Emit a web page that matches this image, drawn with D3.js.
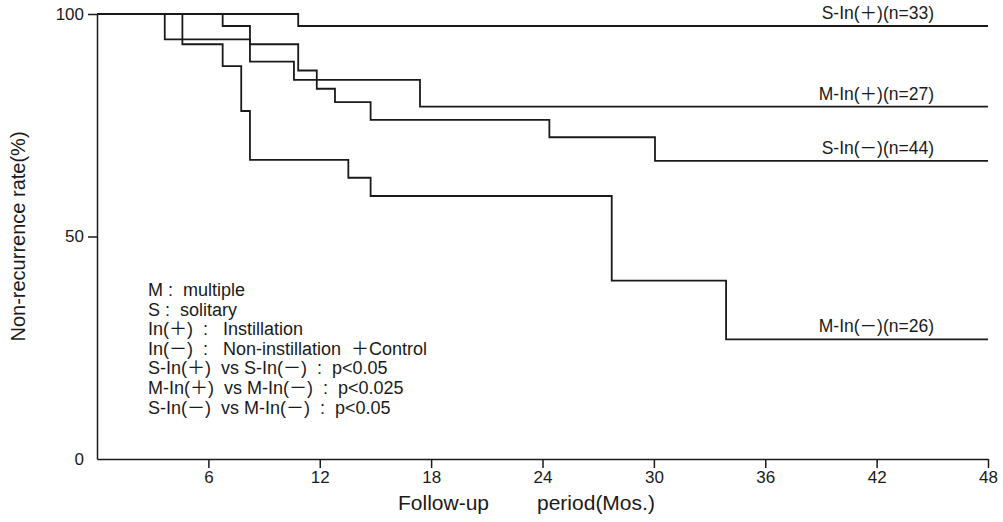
<!DOCTYPE html>
<html>
<head>
<meta charset="utf-8">
<script src="https://cdn.jsdelivr.net/npm/d3@7"></script>
<style>
  body { margin: 0; background: #fff; }
  svg text { font-family: "Liberation Sans", Arial, "Noto Sans CJK JP", sans-serif; fill: #1a1a1a; }
  .axis path, .axis line { stroke: #1a1a1a; stroke-width: 1.5; }
  .axis text { font-family: "Liberation Sans Narrow", "Arial Narrow", "Liberation Sans", sans-serif; }
  .curve { fill: none; stroke: #1a1a1a; stroke-width: 1.8; }
</style>
</head>
<body>
<svg id="chart" width="1003" height="522"></svg>
<script>
// follow-up months where a step happens, and survival (%) after the step
var sInPlusT  = [0, 10.84];
var sInPlusV  = [100, 97.3];
var mInPlusT  = [0, 3.65, 8.24, 10.61, 17.4];
var mInPlusV  = [100, 94.3, 89.3, 85.2, 79.2];
var sInMinusT = [0, 6.77, 8.24, 10.84, 11.84, 12.82, 14.74, 24.37, 30.06];
var sInMinusV = [100, 97.3, 93.2, 87.3, 83.2, 80.2, 76.2, 72.3, 67.0];
var mInMinusT = [0, 4.6, 6.77, 7.77, 8.24, 13.54, 14.74, 27.73, 33.89];
var mInMinusV = [100, 93.2, 88.3, 78.2, 67.2, 63.2, 59.1, 40.1, 26.9];

var seriesNames = ["S-In(＋)(n=33)", "M-In(＋)(n=27)", "S-In(－)(n=44)", "M-In(－)(n=26)"];
var xTicks = [6, 12, 18, 24, 30, 36, 42, 48];
var yTicks = [0, 50, 100];
var notes = [
    "M :  multiple",
    "S :  solitary",
    "In(＋)  :   Instillation",
    "In(－)  :   Non-instillation  ＋Control",
    "S-In(＋)  vs S-In(－)  :  p<0.05",
    "M-In(＋)  vs M-In(－)  :  p<0.025",
    "S-In(－)  vs M-In(－)  :  p<0.05"
];

var svg = d3.select("#chart");

var x = d3.scaleLinear().domain([0, 48]).range([97, 988]);
var y = d3.scaleLinear().domain([0, 100]).range([459, 14]);

// axes
svg.append("g")
    .attr("class", "axis")
    .attr("transform", "translate(0," + y(0) + ")")
    .call(d3.axisBottom(x).tickValues(xTicks).tickSize(9).tickSizeOuter(0).tickPadding(3))
    .call(g => g.selectAll("text").attr("font-size", 17).attr("fill", "#1a1a1a"));

svg.append("g")
    .attr("class", "axis")
    .attr("transform", "translate(" + x(0) + ",0)")
    .call(d3.axisLeft(y).tickValues(yTicks).tickSize(9).tickSizeOuter(0).tickPadding(4))
    .call(g => g.selectAll(".tick line").filter(d => d === 0).remove())
    .call(g => g.selectAll("text").attr("font-size", 17).attr("fill", "#1a1a1a"));

// curves
var curveData = [
    [sInPlusT, sInPlusV],
    [mInPlusT, mInPlusV],
    [sInMinusT, sInMinusV],
    [mInMinusT, mInMinusV]
].map(function (s) {
    var pts = s[0].map(function (t, i) { return [t, s[1][i]]; });
    pts.push([48, s[1][s[1].length - 1]]);
    return pts;
});

var line = d3.line()
    .x(d => x(d[0]))
    .y(d => y(d[1]))
    .curve(d3.curveStepAfter);

svg.selectAll(".curve")
    .data(curveData)
    .enter()
    .append("path")
    .attr("class", "curve")
    .attr("d", line);

// labels above the line ends
svg.selectAll(".end-label")
    .data(curveData)
    .enter()
    .append("text")
    .attr("class", "end-label")
    .attr("x", 934)
    .attr("y", d => y(d[d.length - 1][1]) - 7)
    .attr("text-anchor", "end")
    .attr("font-size", 17.5)
    .text((d, i) => seriesNames[i]);

// notes block
svg.selectAll(".note")
    .data(notes)
    .enter()
    .append("text")
    .attr("class", "note")
    .attr("x", 148)
    .attr("y", (d, i) => 296 + i * 19.6)
    .attr("font-size", 18)
    .style("white-space", "pre")
    .text(d => d);

// axis titles
svg.append("text")
    .attr("x", 398)
    .attr("y", 510)
    .attr("font-size", 21)
    .text("Follow-up");

svg.append("text")
    .attr("x", 537)
    .attr("y", 510)
    .attr("font-size", 21)
    .text("period(Mos.)");

svg.append("text")
    .attr("transform", "translate(25," + y(50) + ") rotate(-90)")
    .attr("text-anchor", "middle")
    .attr("font-size", 20)
    .text("Non-recurrence rate(%)");
</script>
</body>
</html>
